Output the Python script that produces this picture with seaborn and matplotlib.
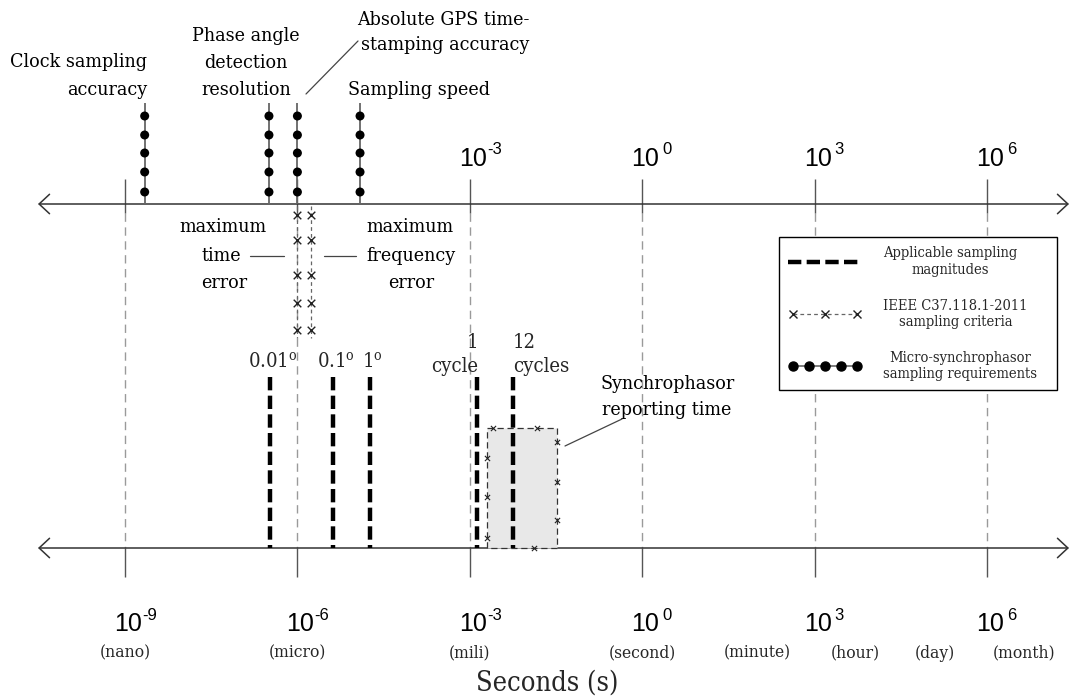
import matplotlib
matplotlib.use('Agg')
import numpy as np
import pandas as pd
import matplotlib.pyplot as plt
import matplotlib.transforms as mtransforms
from matplotlib.patches import Rectangle
from matplotlib.lines import Line2D
from matplotlib.legend_handler import HandlerLine2D
import seaborn as sns

# ---------------- data ----------------
decade_exponents = [-9, -6, -3, 0, 3, 6]
top_label_exponents = [-3, 0, 3, 6]
unit_names = ['(nano)', '(micro)', '(mili)', '(second)', '(minute)', '(hour)', '(day)', '(month)']
unit_seconds = [1e-9, 1e-6, 1e-3, 1e0, 1.0e2, 5.2e3, 1.24e5, 4.4e6]

micro_names = ['Clock sampling accuracy', 'Phase angle detection resolution',
               'Absolute GPS time-stamping accuracy', 'Sampling speed']
micro_seconds = [2.2e-9, 3.2e-7, 1.0e-6, 1.23e-5]

ieee_names = ['maximum time error', 'maximum frequency error']
ieee_seconds = [1.0e-6, 1.75e-6]

applicable_labels = ['0.01°', '0.1°', '1°', '1 cycle', '12 cycles']
applicable_seconds = [3.3e-7, 4.2e-6, 1.8e-5, 1.33e-3, 5.6e-3]

reporting_seconds = [2.0e-3, 3.3e-2]

legend_labels = ['Applicable sampling\nmagnitudes',
                 'IEEE C37.118.1-2011\nsampling criteria',
                 'Micro-synchrophasor\nsampling requirements']

# ---------------- layout ----------------
W, H = 1071, 699
PX_PER_DEC = (987 - 125) / 15.0
TOP_Y, BOT_Y = 204, 548


def px2s(px):
    return 10.0 ** (-9 + (px - 125) / PX_PER_DEC)


sns.set_theme(style='white')
plt.rcParams['font.family'] = ['DejaVu Serif']
plt.rcParams['mathtext.fontset'] = 'dejavuserif'
SERIF = dict(family='DejaVu Serif', stretch='condensed')
SANS = dict(family='Liberation Sans')

fig = plt.figure(figsize=(W / 100, H / 100), dpi=100)
ax = fig.add_axes([0, 0, 1, 1])
ax.set_xscale('log')


def off(dx=0, dy=0):
    return mtransforms.offset_copy(ax.transData, fig=fig, x=dx, y=dy, units='dots')


dec_s = [10.0 ** e for e in decade_exponents]

# decade guide lines and ticks
ax.vlines(dec_s, 213, BOT_Y, colors='#9a9a9a', lw=1, linestyles=(0, (6, 4)), zorder=1)
ax.vlines(dec_s, 179, 213, colors='#555555', lw=1, zorder=1)
ax.vlines(dec_s, BOT_Y, 577, colors='#555555', lw=1, zorder=1)

# two time axes with open arrow heads
for yy in (TOP_Y, BOT_Y):
    ax.annotate('', xy=(px2s(38), yy), xytext=(px2s(1069), yy), xycoords='data',
                arrowprops=dict(arrowstyle='<->,head_length=0.75,head_width=0.7',
                                color='#333333', lw=1.1, shrinkA=0, shrinkB=0,
                                mutation_scale=10), zorder=2)

# micro-synchrophasor requirements
ax.vlines(micro_seconds, 103, TOP_Y, colors='#666666', lw=1.3, zorder=3)
dot_levels = [116, 135, 153, 172, 192]
df_micro = pd.DataFrame({'s': np.repeat(micro_seconds, len(dot_levels)),
                         'y': np.tile(dot_levels, len(micro_seconds))})
sns.scatterplot(data=df_micro, x='s', y='y', ax=ax, color='black', s=42,
                edgecolor='none', zorder=4, legend=False)

# IEEE criteria
ax.vlines(ieee_seconds, 206, 338, colors='#666666', lw=0.9, linestyles=(0, (3, 2.5)), zorder=3)
x_levels = [215, 240, 275, 303, 330]
df_ieee = pd.DataFrame({'s': np.repeat(ieee_seconds, len(x_levels)),
                        'y': np.tile(x_levels, len(ieee_seconds))})
sns.scatterplot(data=df_ieee, x='s', y='y', ax=ax, color='#222222', marker='x', s=30,
                linewidth=1.0, zorder=4, legend=False)

# reporting time box
r0, r1 = reporting_seconds
ax.add_patch(Rectangle((r0, 428), r1 - r0, BOT_Y - 428, facecolor='#e8e8e8',
                       edgecolor='#333333', lw=0.9, ls=(0, (5, 3)), zorder=2))
l0, l1 = np.log10(r0), np.log10(r1)
bx = [10 ** (l0 + f * (l1 - l0)) for f in (0.086, 0.714, 0.67)] + [r1] * 3 + [r0] * 3
by = [428, 428, BOT_Y, 442, 482, 520, 458, 497, 538]
df_box = pd.DataFrame({'s': bx, 'y': by})
sns.scatterplot(data=df_box, x='s', y='y', ax=ax, color='#222222', marker='x', s=14,
                linewidth=0.8, zorder=4, legend=False)

# applicable sampling magnitudes
ax.vlines(applicable_seconds, 377, BOT_Y, colors='black', lw=3.2,
          linestyles=(0, (3.0, 1.2)), zorder=5)

for lab, xs in zip(applicable_labels, applicable_seconds):
    if 'cycle' in lab:
        num, word = lab.split(' ', 1)
        if num == '1':
            ax.text(xs, 343, num, ha='center', va='center', fontsize=14.5, transform=off(-4, 0), **SERIF)
            ax.text(xs, 366, word, ha='right', va='center', fontsize=14.5, transform=off(1, 0), **SERIF)
        else:
            ax.text(xs, 343, num, ha='left', va='center', fontsize=14.5, transform=off(0, 0), **SERIF)
            ax.text(xs, 366, word, ha='left', va='center', fontsize=14.5, transform=off(0, 0), **SERIF)
    else:
        txt = lab.replace('°', r'$^{\mathregular{o}}$')
        ax.text(xs, 362, txt, ha='center', va='center', fontsize=14.5, transform=off(3, 0), **SERIF)

# decade labels
def power_label(e, yc):
    xs = 10.0 ** e
    ax.text(xs, yc, '10', ha='center', va='center', fontsize=18, color='black',
            transform=off(3, 0), **SANS)
    dx = 17 if e < 0 else 20
    ax.text(xs, yc, str(e), ha='left', va='center', fontsize=12, color='black',
            transform=off(dx, 9), **SANS)


for e in top_label_exponents:
    power_label(e, 159)
for e in decade_exponents:
    power_label(e, 624)

for name, xs in zip(unit_names, unit_seconds):
    ax.text(xs, 653, name, ha='center', va='center', fontsize=12.5, **SERIF)

ax.text(px2s(547), 683, 'Seconds (s)', ha='center', va='center', fontsize=19.5, **SERIF)

# annotation texts
def T(px, py, s, ha='center', size=14):
    ax.text(px2s(px), py, s, ha=ha, va='center', fontsize=size, color='black', **SERIF)


T(147, 62, 'Clock sampling', ha='right')
T(147, 90, 'accuracy', ha='right')
T(246, 36, 'Phase angle')
T(246, 63, 'detection')
T(246, 90, 'resolution')
T(443, 20, 'Absolute GPS time-')
T(445, 45, 'stamping accuracy')
T(419, 90, 'Sampling speed')
T(223, 227, 'maximum')
T(221, 256, 'time')
T(224, 283, 'error')
T(410, 227, 'maximum')
T(411, 256, 'frequency')
T(411, 283, 'error')
T(668, 384, 'Synchrophasor')
T(667, 410, 'reporting time')

# connector lines
for (xa, ya), (xb, yb) in [((306, 94), (358, 41)), ((250, 256), (284, 256)),
                           ((324, 256), (356, 256)), ((565, 446), (622, 419))]:
    ax.plot([px2s(xa), px2s(xb)], [ya, yb], color='#444444', lw=0.9, zorder=3)

# legend
h1 = Line2D([], [], color='black', lw=3.2, ls=(0, (3.0, 1.2)))
h2 = Line2D([], [], color='#666666', lw=0.9, ls=(0, (3, 2.5)), marker='x', markersize=6,
            markeredgecolor='#222222', markeredgewidth=1.0)
h3 = Line2D([], [], color='#666666', lw=1.2, marker='o', markersize=6.5,
            markerfacecolor='black', markeredgecolor='black')
leg = ax.legend([h1, h2, h3], legend_labels, loc='upper left',
                bbox_to_anchor=(779 / W, 1 - 393 / H, 278 / W, 156 / H),
                bbox_transform=fig.transFigure, mode='expand', frameon=True,
                fancybox=False, edgecolor='black', framealpha=1,
                handlelength=5.0, handletextpad=1.5, labelspacing=1.5,
                borderpad=0.65, borderaxespad=0,
                prop=dict(family='DejaVu Serif', stretch='condensed', size=10.5),
                handler_map={h2: HandlerLine2D(numpoints=3), h3: HandlerLine2D(numpoints=5)})
leg.get_frame().set_linewidth(1.0)
leg.set_zorder(6)
for t in leg.get_texts():
    t.set_multialignment('center')

ax.set_xlim(px2s(0), px2s(W))
ax.set_ylim(H, 0)
ax.axis('off')

fig.savefig('out.png', dpi=100, facecolor='white')
